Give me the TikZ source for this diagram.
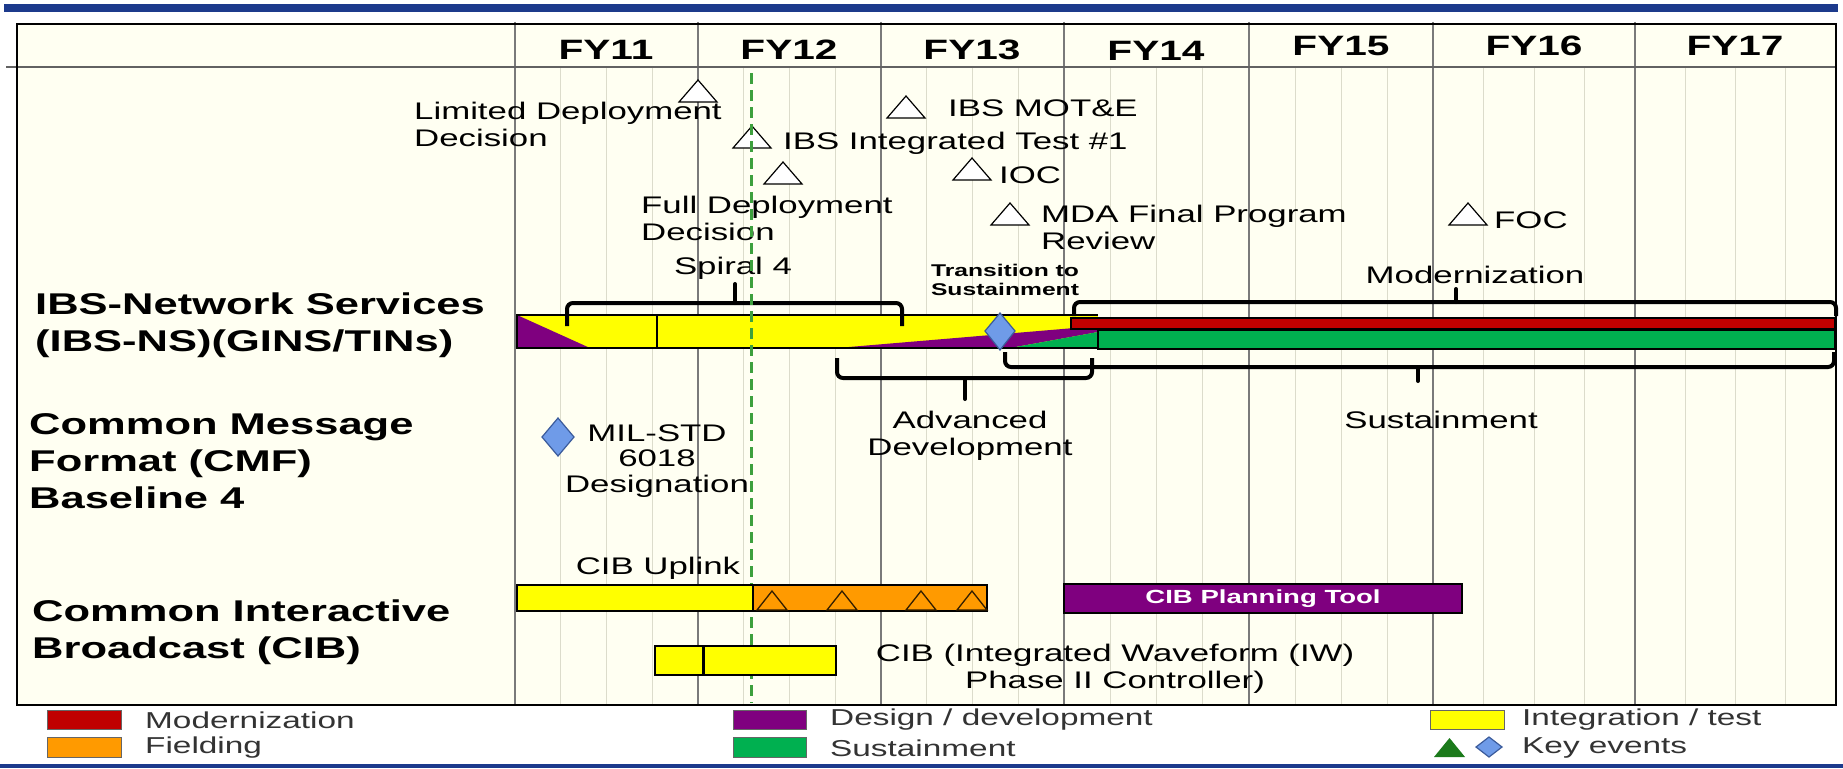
\documentclass[tikz,border=0pt]{standalone}
\usepackage{fontspec}
\setmainfont{Liberation Sans}[FakeStretch=1.45]

\definecolor{navy}{HTML}{1C3A8C}
\definecolor{cream}{HTML}{FFFFF2}
\definecolor{gridq}{HTML}{DCDCCB}
\definecolor{gridy}{HTML}{7A7A7A}
\definecolor{barYellow}{HTML}{FFFF00}
\definecolor{barPurple}{HTML}{7F007F}
\definecolor{barRed}{HTML}{C00000}
\definecolor{barGreen}{HTML}{00B050}
\definecolor{barOrange}{HTML}{FF9A00}
\definecolor{keyblue}{HTML}{6F9BE8}
\definecolor{keyline}{HTML}{3B5B9B}
\definecolor{dashgreen}{HTML}{3DA03D}
\definecolor{keygreen}{HTML}{1B7A1B}
\definecolor{legtext}{HTML}{333333}

\begin{document}
\begin{tikzpicture}[x=1pt, y=-1pt,
    yr/.style={inner sep=0pt, font=\fontsize{28}{30}\selectfont\bfseries},
    row/.style={anchor=west, align=left, inner sep=0pt, font=\fontsize{30}{37}\selectfont\bfseries},
    lbl/.style={inner sep=0pt, font=\fontsize{24}{27}\selectfont},
    tri/.style={draw=black, fill=white, line width=1.2pt},
    bar/.style={draw=black, line width=1.5pt},
    brk/.style={line width=4pt, rounded corners=6pt},
    key/.style={draw=keyline, fill=keyblue, line width=1.2pt},
    leg/.style={anchor=west, inner sep=0pt, text=legtext, font=\fontsize{23}{25}\selectfont}]

  \useasboundingbox[fill=white] (0,0) rectangle (1843,768);
  \fill[navy] (4,4) rectangle (1838,12);
  \fill[navy] (0,764) rectangle (1843,768);

  % chart frame and grid
  \fill[cream] (17,24) rectangle (1836,705);
  \foreach \a/\b in {515/698, 698/881, 881/1064, 1064/1249, 1249/1433, 1433/1635, 1635/1836}
    \foreach \k in {1,2,3}
      \draw[gridq, line width=1pt] ({\a+\k*(\b-\a)/4},67) -- ({\a+\k*(\b-\a)/4},705);
  \foreach \x in {515, 698, 881, 1064, 1249, 1433, 1635}
    \draw[gridy, line width=1.5pt] (\x,22) -- (\x,705);
  \draw[gridy!80!black, line width=1.5pt] (6,67) -- (1836,67);
  \draw[black, line width=2.5pt] (17,24) rectangle (1836,705);

  \foreach \n/\x/\y in {11/606/50, 12/789/50, 13/972/50, 14/1156/51, 15/1341/46, 16/1534/46, 17/1735/46}
    \node[yr] (fy\n) at (\x,\y) {FY\n};

  % row titles
  \node[row] (rowibs) at (35,325) {IBS-Network Services\\(IBS-NS)(GINS/TINs)};
  \node[row] (rowcmf) at (29,461) {Common Message\\Format (CMF)\\Baseline 4};
  \node[row] (rowcib) at (32,632) {Common Interactive\\Broadcast (CIB)};

  % milestones
  \foreach \x/\y in {698/80, 752/126, 783/162, 906/96, 972/158, 1010/203, 1468/203}
    \draw[tri] (\x,\y) -- ++(19,22) -- ++(-38,0) -- cycle;
  \node[lbl, anchor=west, align=left] (ldd) at (414,124) {Limited Deployment\\Decision};
  \node[lbl, anchor=west] (ibsit) at (783,143) {IBS Integrated Test \#1};
  \node[lbl, anchor=west, align=left] (fdd) at (641,218) {Full Deployment\\Decision};
  \node[lbl, anchor=west] (mote) at (948,108) {IBS MOT\&E};
  \node[lbl, anchor=west] (ioc) at (999,175) {IOC};
  \node[lbl, anchor=west, align=left] (mda) at (1041,227) {MDA Final Program\\Review};
  \node[lbl, anchor=west] (foc) at (1494,220) {FOC};

  % IBS-NS bar
  \fill[barYellow] (517,315) rectangle (1098,348);
  \fill[barPurple] (517,315) -- (590,348) -- (517,348) -- cycle;
  \fill[barPurple] (837,348) -- (1098,326) -- (1098,332) -- (1010,348) -- cycle;
  \fill[barGreen] (1010,348) -- (1098,332) -- (1098,348) -- cycle;
  \draw[black, line width=1.5pt] (1098,315) -- (517,315) -- (517,348) -- (1098,348);
  \draw[black, line width=1.2pt] (657,315) -- (657,348);
  \draw[bar, fill=barRed] (1071,318) rectangle (1835,329);
  \draw[bar, fill=barGreen] (1098,330) rectangle (1835,349);
  \draw[key] (1000,313) -- (1015,331) -- (1000,350) -- (985,331) -- cycle;

  % phase brackets
  \draw[brk] (567,326) |- (902,303) -- (902,326);
  \draw[line width=4pt, line cap=round] (735,303) -- (735,284);
  \draw[brk] (1074,316) |- (1836,302) -- (1836,316);
  \draw[line width=4pt, line cap=round] (1456,302) -- (1456,289);
  \draw[brk] (837,358) |- (1092,378) -- (1092,358);
  \draw[line width=4pt, line cap=round] (965,378) -- (965,399);
  \draw[brk] (1005,352) |- (1834,367) -- (1834,352);
  \draw[line width=4pt, line cap=round] (1418,367) -- (1418,381);
  \node[lbl] (spiral) at (733,268) {Spiral 4};
  \node[lbl, align=center, font=\fontsize{17}{19}\selectfont\bfseries] (trans) at (1005,280) {Transition to\\Sustainment};
  \node[lbl] (modern) at (1475,275) {Modernization};
  \node[lbl, align=center] (advdev) at (970,436) {Advanced\\Development};
  \node[lbl] (sustain) at (1441,420) {Sustainment};

  % current date
  \draw[dashgreen, line width=3pt, dash pattern=on 11pt off 6pt] (751,73) -- (751,703);

  % CMF
  \draw[key] (558,418) -- (574,437) -- (558,456) -- (542,437) -- cycle;
  \node[lbl, align=center, font=\fontsize{24}{25.5}\selectfont] (milstd) at (657,461) {MIL-STD\\6018\\Designation};

  % CIB
  \node[lbl] (uplink) at (658,568) {CIB Uplink};
  \draw[bar, fill=barYellow] (517,585) rectangle (753,611);
  \draw[bar, fill=barOrange] (753,585) rectangle (987,611);
  \foreach \x in {772, 842, 921, 972}
    \draw[black!80!barOrange, line width=1.3pt] (\x,591) -- ++(15,19) -- ++(-30,0) -- cycle;
  \node[bar, fill=barPurple, minimum width=398pt, minimum height=29pt, inner sep=0pt,
        text=white, font=\fontsize{19}{20}\selectfont\bfseries] (plantool) at (1263,598.5) {CIB Planning Tool};
  \draw[bar, fill=barYellow] (655,646) rectangle (836,675);
  \draw[black, line width=3pt] (703,646) -- (703,675);
  \node[lbl, align=center] (iwctl) at (1115,669) {CIB (Integrated Waveform (IW)\\Phase II Controller)};

  % legend
  \draw[black!60, fill=barRed] (47,710) rectangle (121,729);
  \draw[black!60, fill=barOrange] (47,737) rectangle (121,757);
  \draw[black!60, fill=barPurple] (733,710) rectangle (806,729);
  \draw[black!60, fill=barGreen] (733,737) rectangle (806,757);
  \draw[black!60, fill=barYellow] (1430,710) rectangle (1504,729);
  \fill[keygreen] (1449.5,738) -- (1465,757) -- (1434,757) -- cycle;
  \draw[key] (1489,737) -- (1502,747) -- (1489,757) -- (1476,747) -- cycle;
  \node[leg] (lgmod) at (145,720) {Modernization};
  \node[leg] (lgfld) at (145,748) {Fielding};
  \node[leg] (lgdes) at (830,720) {Design / development};
  \node[leg] (lgsus) at (830,748) {Sustainment};
  \node[leg] (lgint) at (1522,720) {Integration / test};
  \node[leg] (lgkey) at (1522,748) {Key events};
\end{tikzpicture}
\end{document}
